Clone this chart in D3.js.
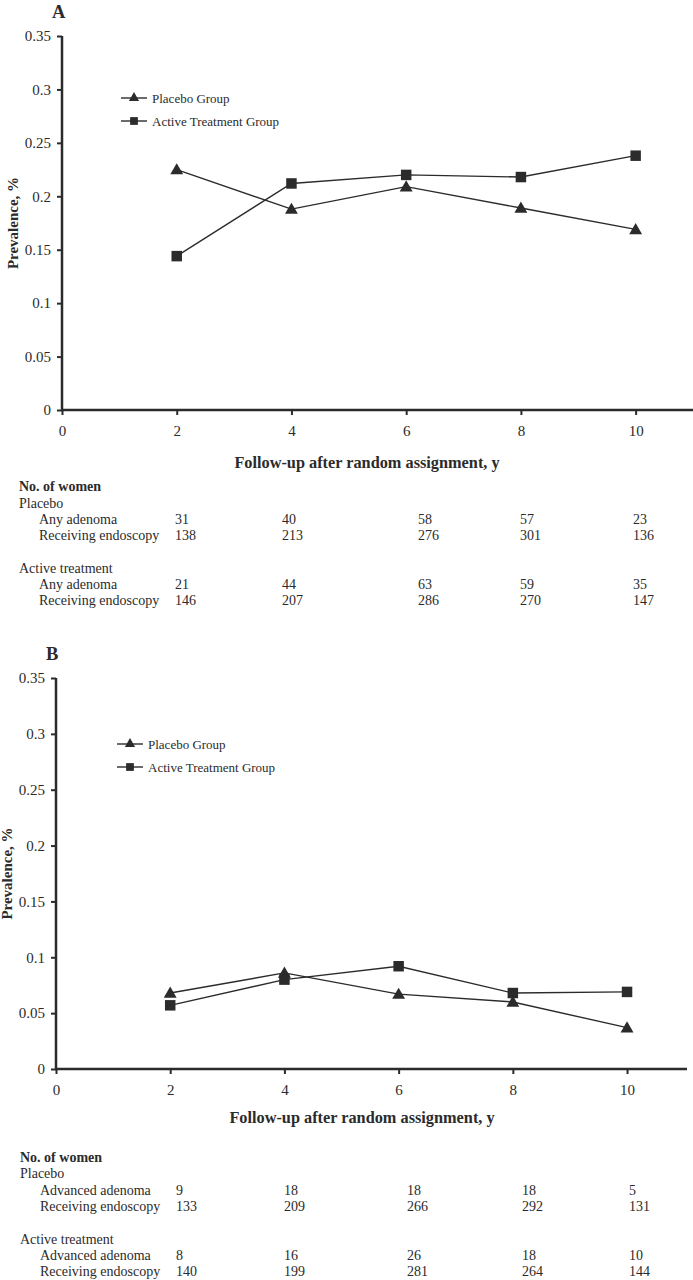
<!DOCTYPE html>
<html>
<head>
<meta charset="utf-8">
<script src="https://cdn.jsdelivr.net/npm/d3@7"></script>
<style>
  body { margin: 0; background: #fff; }
  svg text { font-family: "Liberation Serif", "Times New Roman", serif; fill: #2b2b2b; }
</style>
</head>
<body>
<script>
var years = [2, 4, 6, 8, 10],
    yTicks = [0, 0.05, 0.1, 0.15, 0.2, 0.25, 0.3, 0.35],
    xTicks = [0, 2, 4, 6, 8, 10];

// prevalence
var placeboA = [0.225, 0.188, 0.209, 0.189, 0.169],
    activeA  = [0.144, 0.212, 0.220, 0.218, 0.238],
    placeboB = [0.068, 0.086, 0.067, 0.060, 0.037],
    activeB  = [0.057, 0.080, 0.092, 0.068, 0.069];

// counts under each panel
var placeboAnyA  = [31, 40, 58, 57, 23],
    placeboEndoA = [138, 213, 276, 301, 136],
    activeAnyA   = [21, 44, 63, 59, 35],
    activeEndoA  = [146, 207, 286, 270, 147],
    placeboAdvB  = [9, 18, 18, 18, 5],
    placeboEndoB = [133, 209, 266, 292, 131],
    activeAdvB   = [8, 16, 26, 18, 10],
    activeEndoB  = [140, 199, 281, 264, 144];

var W = 693, H = 1280, ink = "#2b2b2b";

var svg = d3.select("body").append("svg")
    .attr("width", W)
    .attr("height", H);

var panels = [
  {tag: "A", left: 62, top: 36, bottom: 410, right: 693, xmax: 11,
   placebo: placeboA, active: activeA, legendY: 98, legendX: 121,
   xTitleX: 367, xTitleY: 468, rowLabel: "Any adenoma",
   rows: [placeboAnyA, placeboEndoA, activeAnyA, activeEndoA],
   tableY: 486, tableSteps: [0, 17, 33, 49, 82, 98, 114],
   labelX: [19, 39], cols: [175, 282, 418, 520, 633]},
  {tag: "B", left: 56, top: 678, bottom: 1069, right: 687, xmax: 11.05,
   placebo: placeboB, active: activeB, legendY: 744, legendX: 117,
   xTitleX: 362, xTitleY: 1123, rowLabel: "Advanced adenoma",
   rows: [placeboAdvB, placeboEndoB, activeAdvB, activeEndoB],
   tableY: 1157, tableSteps: [0, 16, 33, 49, 82, 98, 114],
   labelX: [20, 40], cols: [176, 284, 407, 522, 629]}
];

panels.forEach(drawPanel);

function drawPanel(p) {
  var x = d3.scaleLinear().domain([0, p.xmax]).range([p.left, p.right]),
      y = d3.scaleLinear().domain([0, 0.35]).range([p.bottom, p.top]);

  var g = svg.append("g");

  g.append("text")
      .attr("x", p.left - 10)
      .attr("y", p.top - 18)
      .style("font-size", "18.5px")
      .style("font-weight", "bold")
      .text(p.tag);

  // y axis
  var ya = g.append("g")
      .attr("transform", `translate(${p.left},0)`)
      .call(d3.axisLeft(y).tickValues(yTicks).tickSize(5).tickPadding(6)
        .tickFormat((d) => d === 0 ? "0" : String(+d.toFixed(2))));
  // x axis
  var xa = g.append("g")
      .attr("transform", `translate(0,${p.bottom})`)
      .call(d3.axisBottom(x).tickValues(xTicks).tickSize(5).tickPadding(10)
        .tickFormat(d3.format("d")));

  [ya, xa].forEach((a) => {
    a.select(".domain").attr("stroke", ink).attr("stroke-width", 2.5);
    a.selectAll(".tick line").attr("stroke", ink).attr("stroke-width", 2);
    a.selectAll(".tick text")
        .style("font-family", "Liberation Serif")
        .style("font-size", "15px")
        .attr("fill", "#444");
  });
  xa.select(".domain").attr("d", `M${p.left},0H${p.right}`);
  ya.select(".domain").attr("d", `M0,${p.top}V${p.bottom}`);

  g.append("text")
      .attr("transform", `translate(${p.left - 44},${(p.top + p.bottom) / 2}) rotate(-90)`)
      .attr("text-anchor", "middle")
      .style("font-size", "15px")
      .style("font-weight", "bold")
      .text("Prevalence, %");

  g.append("text")
      .attr("x", p.xTitleX)
      .attr("y", p.xTitleY)
      .attr("text-anchor", "middle")
      .style("font-size", "16.3px")
      .style("font-weight", "bold")
      .text("Follow-up after random assignment, y");

  var line = d3.line()
      .x((d, i) => x(years[i]))
      .y((d) => y(d));

  var tri = d3.symbol().type(d3.symbolTriangle).size(72),
      sq = d3.symbol().type(d3.symbolSquare).size(110);

  [[p.placebo, tri], [p.active, sq]].forEach(([vals, sym]) => {
    g.append("path")
        .datum(vals)
        .attr("fill", "none")
        .attr("stroke", ink)
        .attr("stroke-width", 1.4)
        .attr("d", line);
    g.selectAll(null)
        .data(vals)
      .enter().append("path")
        .attr("transform", (d, i) => `translate(${x(years[i])},${y(d) + (sym === tri ? 1 : 0)})`)
        .attr("fill", ink)
        .attr("d", sym);
  });

  // legend
  var legend = [["Placebo Group", d3.symbolTriangle, 45], ["Active Treatment Group", d3.symbolSquare, 60]];
  legend.forEach(([label, type, size], i) => {
    var ly = p.legendY + i * 23;
    g.append("line")
        .attr("x1", p.legendX).attr("x2", p.legendX + 26)
        .attr("y1", ly).attr("y2", ly)
        .attr("stroke", ink).attr("stroke-width", 1.4);
    g.append("path")
        .attr("transform", `translate(${p.legendX + 13},${ly})`)
        .attr("fill", ink)
        .attr("d", d3.symbol().type(type).size(size));
    g.append("text")
        .attr("x", p.legendX + 31)
        .attr("y", ly)
        .attr("dy", "0.35em")
        .style("font-size", "13px")
        .text(label);
  });

  // counts table
  var t = p.tableY, s = p.tableSteps, fs = "14px";
  var lines = [
    {text: "No. of women", bold: true, x: p.labelX[0]},
    {text: "Placebo", x: p.labelX[0]},
    {text: p.rowLabel, x: p.labelX[1], vals: p.rows[0]},
    {text: "Receiving endoscopy", x: p.labelX[1], vals: p.rows[1]},
    {text: "Active treatment", x: p.labelX[0]},
    {text: p.rowLabel, x: p.labelX[1], vals: p.rows[2]},
    {text: "Receiving endoscopy", x: p.labelX[1], vals: p.rows[3]}
  ];
  lines.forEach((r, k) => {
    var ry = t + s[k];
    g.append("text")
        .attr("x", r.x)
        .attr("y", ry)
        .attr("dy", "0.35em")
        .style("font-size", fs)
        .style("font-weight", r.bold ? "bold" : null)
        .text(r.text);
    if (r.vals) {
      g.selectAll(null)
          .data(r.vals)
        .enter().append("text")
          .attr("x", (d, i) => p.cols[i])
          .attr("y", ry)
          .attr("dy", "0.35em")
          .style("font-size", fs)
          .text((d) => d);
    }
  });
}
</script>
</body>
</html>
